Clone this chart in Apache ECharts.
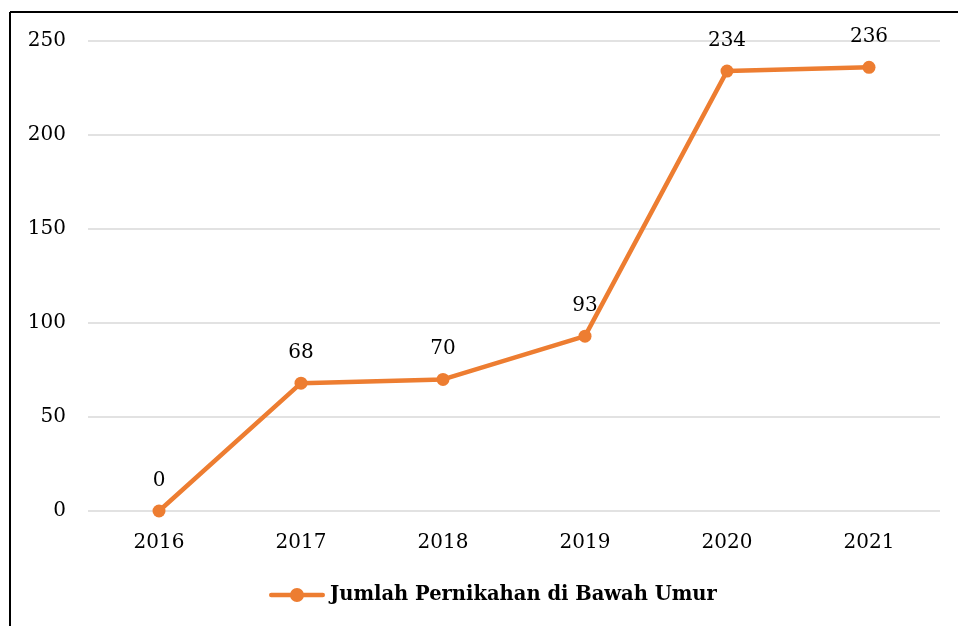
<!DOCTYPE html>
<html><head><meta charset="utf-8">
<script src="https://cdn.jsdelivr.net/npm/echarts@6/dist/echarts.min.js"></script>
<style>html,body{margin:0;padding:0;background:#fff}#c{width:958px;height:626px}</style>
</head><body><div id="c"></div>
<script>
const categories = ['2016','2017','2018','2019','2020','2021'];
const values = [0, 68, 70, 93, 234, 236];
const seriesName = 'Jumlah Pernikahan di Bawah Umur';
const yTicks = [0, 50, 100, 150, 200, 250];

const FONT = 'DejaVu Serif';
const chart = echarts.init(document.getElementById('c'), null, {renderer:'canvas'});
chart.setOption({
  backgroundColor:'#fff',
  animation:false,
  textStyle:{fontFamily:FONT},
  grid:{left:88, right:18, top:41, bottom:115},
  graphic:[
    {type:'line', shape:{x1:10, y1:12, x2:958, y2:12}, style:{stroke:'#000', lineWidth:2}},
    {type:'line', shape:{x1:10, y1:12, x2:10, y2:626}, style:{stroke:'#000', lineWidth:2}}
  ],
  legend:{
    bottom:16, left:264,
    itemWidth:56, itemHeight:14, itemGap:4,
    data:[{name:seriesName,
      icon:'path://M2.25,4.75 L53.75,4.75 A2.25,2.25 0 0,1 53.75,9.25 L2.25,9.25 A2.25,2.25 0 0,1 2.25,4.75 Z M28,0 A7,7 0 1,1 27.99,0 Z'}],
    textStyle:{fontFamily:FONT, fontWeight:'bold', fontSize:19.5, color:'#000', padding:[0,0,0,0]}
  },
  xAxis:{
    type:'category', data:categories, boundaryGap:true,
    axisLine:{show:false}, axisTick:{show:false},
    axisLabel:{fontFamily:FONT, fontSize:20, color:'#000', margin:22}
  },
  yAxis:{
    type:'value', min:yTicks[0], max:yTicks[yTicks.length-1], interval:50,
    axisLine:{show:false}, axisTick:{show:false},
    axisLabel:{fontFamily:FONT, fontSize:20, color:'#000', margin:22},
    splitLine:{lineStyle:{color:'#d9d9d9', width:1.5}}
  },
  series:[{
    name:seriesName, type:'line', data:values,
    symbol:'circle', symbolSize:13,
    lineStyle:{color:'#ED7D31', width:4.5},
    itemStyle:{color:'#ED7D31'},
    label:{show:true, position:'top', distance:14, fontFamily:FONT, fontSize:20, color:'#000'}
  }]
});
</script></body></html>
